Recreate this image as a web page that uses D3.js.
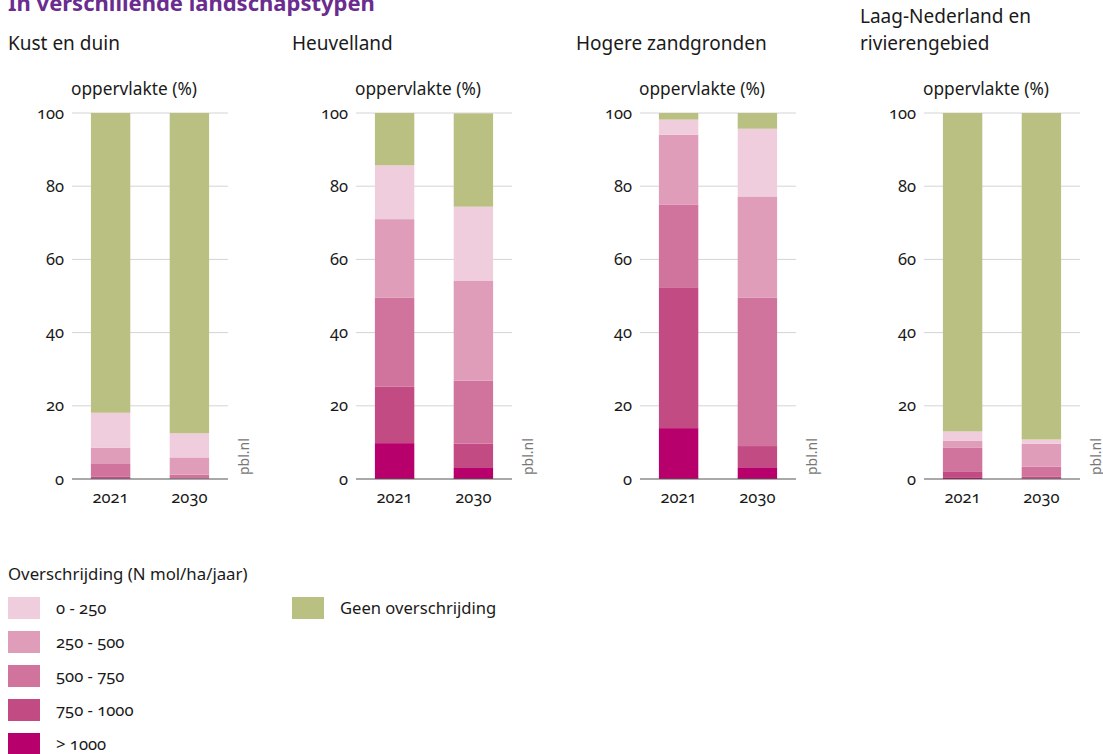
<!DOCTYPE html>
<html lang="nl">
<head>
<meta charset="utf-8">
<title>Overschrijding kritische depositiewaarde</title>
<script src="https://cdn.jsdelivr.net/npm/d3@7"></script>
<style>
  body { margin: 0; background: #fff; }
  svg text { font-family: "Noto Sans", sans-serif; fill: #1a1a1a; font-variant-numeric: oldstyle-nums; }
  .grid line { stroke: #d4d4d4; }
</style>
</head>
<body>
<div id="chart"></div>
<script>
// panels (landschapstypen)
var panels = [["Kust en duin"], ["Heuvelland"], ["Hogere zandgronden"], ["Laag-Nederland en", "rivierengebied"]];
var years = ["2021", "2030"];
var classes = ["> 1000", "750 - 1000", "500 - 750", "250 - 500", "0 - 250", "Geen overschrijding"];
var colors = ["#b8006d", "#c24b84", "#d0739d", "#df9db9", "#f0cddc", "#b9c082"];
var yTicks = [0, 20, 40, 60, 80, 100];

// values per class, bottom to top, per panel: [2021, 2030]
var over1000 = [[0.1, 0.0], [9.8, 3.0], [13.9, 3.2], [0.3, 0.1]];
var over750  = [[0.5, 0.1], [15.4, 6.7], [38.3, 5.8], [1.8, 0.5]];
var over500  = [[3.5, 1.1], [24.3, 17.2], [22.7, 40.6], [6.4, 2.8]];
var over250  = [[4.4, 4.7], [21.5, 27.2], [19.2, 27.6], [2.0, 6.2]];
var over0    = [[9.6, 6.6], [14.7, 20.3], [4.1, 18.5], [2.5, 1.2]];
var geen     = [[81.9, 87.5], [14.3, 25.5], [1.8, 4.3], [87.0, 89.2]];
var series = [over1000, over750, over500, over250, over0, geen];

var W = 1103, H = 754;
var svg = d3.select("#chart").append("svg").attr("width", W).attr("height", H);

svg.append("text").attr("x", 8).attr("y", 11)
  .style("font-size", "22px").style("font-weight", "bold").style("fill", "#6a2d8f")
  .text("In verschillende landschapstypen");

var plotW = 156, plotTop = 113, plotBottom = 479;
var x = d3.scaleBand().domain(years).range([0, plotW]).paddingInner(0.5).paddingOuter(0.24);
var y = d3.scaleLinear().domain([0, 100]).range([plotBottom, plotTop]);

panels.forEach(function(title, p) {
  var x0 = 8 + p * 284;
  var g = svg.append("g").attr("transform", "translate(" + x0 + ",0)");

  title.forEach(function(t, i) {
    g.append("text").attr("x", 0).attr("y", 50 - (title.length - 1 - i) * 27)
      .style("font-size", "19px").text(t);
  });
  g.append("text").attr("x", 63).attr("y", 95).style("font-size", "17.3px").text("oppervlakte (%)");

  var plot = g.append("g").attr("transform", "translate(64,0)");

  plot.append("g").attr("class", "grid")
    .selectAll("line").data(yTicks.slice(1)).join("line")
    .attr("x1", 0).attr("x2", plotW).attr("y1", d => y(d)).attr("y2", d => y(d));

  plot.selectAll(".tick-label").data(yTicks).join("text")
    .attr("x", -8).attr("y", d => y(d) + 5.5).attr("text-anchor", "end")
    .style("font-size", "16.5px").text(d => d);

  years.forEach(function(yr, j) {
    var acc = 0;
    series.forEach(function(s, k) {
      var v = s[p][j];
      if (v > 0) {
        plot.append("rect")
          .attr("x", x(yr)).attr("width", x.bandwidth())
          .attr("y", y(acc + v)).attr("height", y(acc) - y(acc + v))
          .attr("fill", colors[k]);
      }
      acc += v;
    });
  });

  plot.append("line").attr("x1", 0).attr("x2", plotW).attr("y1", plotBottom).attr("y2", plotBottom)
    .attr("stroke", "#555").attr("stroke-width", 1.2);

  plot.selectAll(".xl").data(years).join("text")
    .attr("x", d => x(d) + x.bandwidth() / 2).attr("y", 503).attr("text-anchor", "middle")
    .style("font-size", "16.5px").text(d => d);

  plot.append("text").attr("transform", "translate(" + (plotW + 21) + ",475) rotate(-90)")
    .style("font-size", "14px").style("fill", "#777").text("pbl.nl");
});

// legend
svg.append("text").attr("x", 8).attr("y", 580).style("font-size", "16.8px").text("Overschrijding (N mol/ha/jaar)");
var legendItems = classes.slice(0, 5).reverse().map((c, i) => ({ label: c, color: colors[4 - i], col: 0, row: i }));
legendItems.push({ label: classes[5], color: colors[5], col: 1, row: 0 });
var lg = svg.selectAll(".legend").data(legendItems).join("g")
  .attr("transform", d => "translate(" + (8 + d.col * 284) + "," + (597 + d.row * 34) + ")");
lg.append("rect").attr("width", 32).attr("height", 22).attr("fill", d => d.color);
lg.append("text").attr("x", 48).attr("y", 17).style("font-size", "16.6px").text(d => d.label);
</script>
</body>
</html>
